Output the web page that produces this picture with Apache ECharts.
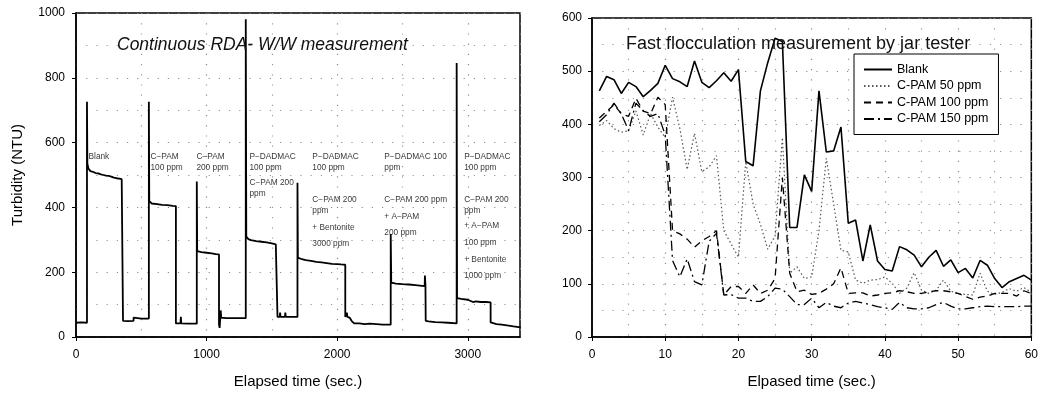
<!DOCTYPE html>
<html><head><meta charset="utf-8">
<script src="https://cdn.jsdelivr.net/npm/echarts@6/dist/echarts.min.js"></script>
<style>html,body{margin:0;padding:0;background:#fff}#c{width:1041px;height:394px}</style>
</head><body><div id="c"></div>
<script>
// ---------- Left chart: continuous RDA - W/W measurement ----------
const leftTime = [0,40,84, 84,87,95,110,130,150,170,190,210,230,250,270,290,310,330,350,360,
  360,400,441,441,446,500,558,
  558,561,580,620,660,700,740,765,
  765,800,803,806,860,925,
  925,928,960,1000,1040,1070,1095,
  1095,1100,1106,1108,1112,1150,1200,1250,1300,
  1300,1304,1320,1340,1380,1420,1460,1500,1530,1543,
  1543,1560,1563,1566,1600,1603,1606,1650,1696,
  1696,1699,1730,1760,1800,1840,1880,1920,1960,2000,2030,2062,
  2062,2070,2074,2078,2095,2110,2130,2170,2210,2250,2300,2350,2410,
  2410,2414,2450,2500,2550,2600,2650,2670,2672,2676,2678,2700,2750,2800,2850,2915,
  2915,2918,2950,3000,3040,3060,3100,3140,3175,
  3175,3220,3260,3300,3350,3405];
const leftTurbidity = [44,45,44, 726,535,520,512,510,506,505,502,500,498,497,495,492,490,489,487,486,
  50,49,50,60,57,57,57,
  726,420,412,410,408,407,405,404,
  42,42,62,42,41,41,
  480,265,262,260,258,256,255,
  38,28,30,82,60,58,58,58,58,
  981,310,302,299,296,294,292,289,286,285,
  62,62,75,62,62,75,62,62,62,
  476,245,240,237,235,232,230,228,226,225,224,223,
  62,62,75,62,60,50,42,42,40,41,40,38,38,
  318,168,165,163,162,160,158,157,190,160,50,48,46,45,44,42,
  846,120,118,115,108,110,108,108,107,
  45,40,38,36,33,30];
const leftXTicks = [0,1000,2000,3000];
const leftYTicks = [0,200,400,600,800,1000];
// annotations: [time, turbidity, text]
const annotations = [
  [92,557,'Blank'],
  [566,557,'C−PAM'],[566,523,'100 ppm'],
  [918,557,'C−PAM'],[918,523,'200 ppm'],
  [1324,557,'P−DADMAC'],[1324,523,'100 ppm'],[1324,477,'C−PAM 200'],[1324,443,'ppm'],
  [1806,557,'P−DADMAC'],[1806,523,'100 ppm'],[1806,425,'C−PAM 200'],[1806,391,'ppm'],[1806,338,'+ Bentonite'],[1806,289,'3000 ppm'],
  [2357,557,'P−DADMAC 100'],[2357,523,'ppm'],[2357,425,'C−PAM 200 ppm'],[2357,372,'+ A−PAM'],[2357,323,'200 ppm'],
  [2969,557,'P−DADMAC'],[2969,523,'100 ppm'],[2969,425,'C−PAM 200'],[2969,391,'ppm'],[2969,342,'+ A−PAM'],[2969,292,'100 ppm'],[2969,240,'+ Bentonite'],[2969,188,'1000 ppm']
];

// ---------- Right chart: fast flocculation by jar tester ----------
const rightTime = [1,2,3,4,5,6,7,8,9,10,11,12,13,14,15,16,17,18,19,20,21,22,23,24,25,26,27,28,29,30,
  31,32,33,34,35,36,37,38,39,40,41,42,43,44,45,46,47,48,49,50,51,52,53,54,55,56,57,58,59,60];
const blank = [463,490,484,458,479,471,452,464,477,511,486,480,471,519,479,469,482,497,481,503,
  330,322,463,516,562,556,206,206,305,274,463,348,350,395,214,220,143,211,143,127,
  124,170,164,154,132,150,163,133,145,121,129,111,144,135,110,93,104,110,116,107];
const cpam50 = [398,407,392,385,388,425,380,420,395,375,451,392,315,383,311,320,341,200,175,150,
  330,250,212,165,190,375,120,132,110,113,200,336,250,163,160,107,101,107,108,113,
  101,82,92,121,88,82,88,107,86,82,80,79,120,86,80,84,91,86,93,84];
const cpam100 = [412,424,437,420,415,449,425,420,451,437,200,194,184,169,181,189,200,79,95,95,
  82,98,82,88,110,300,120,85,88,80,82,90,100,130,82,83,83,77,79,82,
  83,87,85,82,82,85,87,87,85,82,76,71,75,77,82,82,82,77,87,82];
const cpam150 = [405,418,440,420,388,440,425,415,420,380,144,113,147,104,98,180,195,79,80,73,
  73,67,67,76,92,90,76,61,61,73,55,65,58,55,64,67,64,61,57,55,
  52,65,55,53,53,55,61,65,58,53,53,55,57,58,57,57,57,57,58,58];
const seriesNames = ['Blank','C-PAM 50 ppm','C-PAM 100 ppm','C-PAM 150 ppm'];

const FONT = '"Liberation Sans", Arial, sans-serif';
const zip = (a,b) => a.map((x,i)=>[x,b[i]]);
const axisCommon = {
  axisLine:{show:true, onZero:false, lineStyle:{color:'#000', width:1.5}},
  axisTick:{show:true, inside:false, length:4, lineStyle:{color:'#000', width:1}},
  axisLabel:{color:'#000', fontSize:12, fontFamily:FONT},
  splitLine:{show:true, lineStyle:{color:'#8a8a8a', type:[1.2,9], width:1.2}},
  minorTick:{show:false, splitNumber:2},
  minorSplitLine:{show:true, lineStyle:{color:'#9a9a9a', type:[1.2,9], width:1.2}},
  nameTextStyle:{color:'#000', fontSize:15, fontFamily:FONT}
};

const chart = echarts.init(document.getElementById('c'), null, {renderer:'canvas'});
chart.setOption({
  animation:false,
  backgroundColor:'#fff',
  title:[
    {text:'Continuous RDA- W/W measurement', left:117, top:36, padding:0,
     textStyle:{fontFamily:FONT, fontSize:17.5, fontStyle:'italic', fontWeight:'normal', color:'#111'}},
    {text:'Fast flocculation measurement by jar tester', left:626, top:35, padding:0,
     textStyle:{fontFamily:FONT, fontSize:18, fontWeight:'normal', color:'#111'}}
  ],
  legend:{
    show:true,
    data:seriesNames, orient:'vertical', left:854, top:54,
    backgroundColor:'#fff', borderColor:'#000', borderWidth:1,
    padding:[9,10,9,9], itemGap:3.5, itemWidth:28, itemHeight:12.5,
    textStyle:{fontFamily:FONT, fontSize:12.5, color:'#000'},
    itemStyle:{opacity:0, borderWidth:0},
    selectedMode:false
  },
  grid:[
    {left:76, top:13, width:444, height:325, show:true, borderColor:'#000', borderWidth:1.5, backgroundColor:'transparent'},
    {left:592, top:18, width:441, height:323, show:true, borderColor:'#000', borderWidth:1.5, backgroundColor:'transparent'}
  ],
  xAxis:[
    Object.assign({}, axisCommon, {gridIndex:0, type:'value', min:0, max:3400, interval:1000,
      name:'Elapsed time (sec.)', nameLocation:'middle', nameGap:37,
      axisLabel:Object.assign({}, axisCommon.axisLabel, {margin:12, showMaxLabel:false,
        formatter:v => leftXTicks.includes(v) ? String(v) : ''})}),
    Object.assign({}, axisCommon, {gridIndex:1, type:'value', min:0, max:60, interval:10,
      name:'Elpased time (sec.)', nameLocation:'middle', nameGap:37,
      axisLabel:Object.assign({}, axisCommon.axisLabel, {margin:12})})
  ],
  yAxis:[
    Object.assign({}, axisCommon, {gridIndex:0, type:'value', min:0, max:1000, interval:200,
      name:'Turbidity (NTU)', nameLocation:'middle', nameGap:51,
      axisLabel:Object.assign({}, axisCommon.axisLabel, {margin:11,
        formatter:v => leftYTicks.includes(v) ? String(v) : ''})}),
    Object.assign({}, axisCommon, {gridIndex:1, type:'value', min:0, max:600, interval:100,
      axisLabel:Object.assign({}, axisCommon.axisLabel, {margin:10})})
  ],
  series:[
    {type:'line', xAxisIndex:0, yAxisIndex:0, data:zip(leftTime,leftTurbidity), showSymbol:false,
     symbol:'none', lineStyle:{color:'#000', width:1.8}, silent:true},
    {type:'scatter', xAxisIndex:0, yAxisIndex:0, symbolSize:1, silent:true,
     itemStyle:{color:'rgba(0,0,0,0)'},
     data:annotations.map(a => ({value:[a[0], a[1]], name:a[2]})),
     label:{show:true, position:'right', distance:0, align:'left', verticalAlign:'middle',
       formatter:'{b}', fontFamily:FONT, fontSize:8.3, color:'#000'},
     labelLayout:{hideOverlap:false}},
    {name:seriesNames[0], type:'line', xAxisIndex:1, yAxisIndex:1, data:zip(rightTime,blank),
     symbol:'none', itemStyle:{color:'#000'}, lineStyle:{color:'#000', width:1.6, type:'solid'}},
    {name:seriesNames[1], type:'line', xAxisIndex:1, yAxisIndex:1, data:zip(rightTime,cpam50),
     symbol:'none', itemStyle:{color:'#555'}, lineStyle:{color:'#555', width:1.2, type:[1.5,2.5]}},
    {name:seriesNames[2], type:'line', xAxisIndex:1, yAxisIndex:1, data:zip(rightTime,cpam100),
     symbol:'none', itemStyle:{color:'#000'}, lineStyle:{color:'#000', width:1.3, type:[7,5]}},
    {name:seriesNames[3], type:'line', xAxisIndex:1, yAxisIndex:1, data:zip(rightTime,cpam150),
     symbol:'none', itemStyle:{color:'#000'}, lineStyle:{color:'#000', width:1.3, type:[10,4,2,4]}}
  ]
});
</script>
</body></html>
